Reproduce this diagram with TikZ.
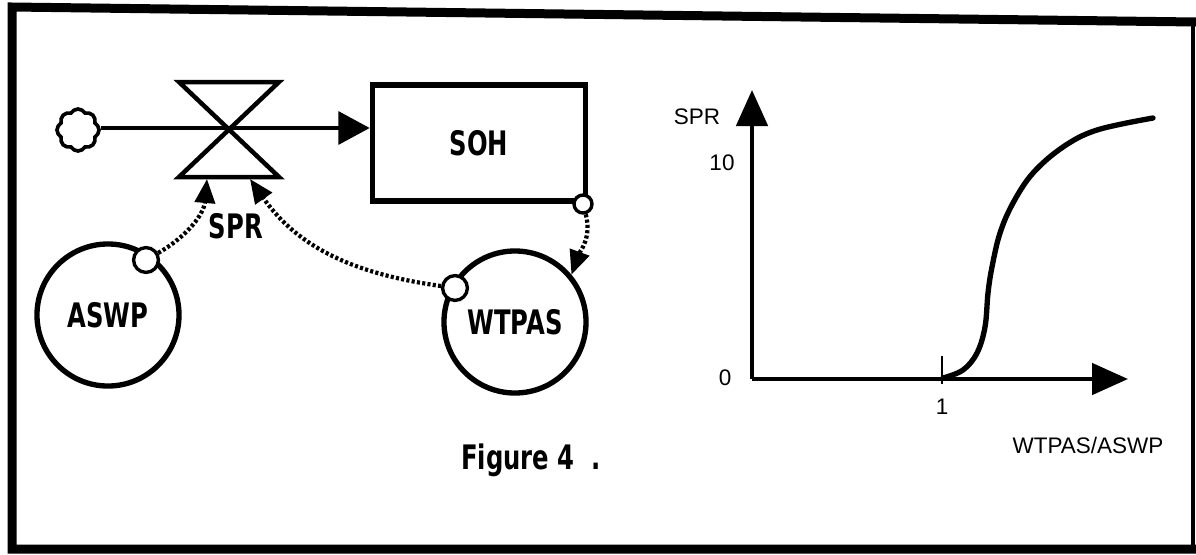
\documentclass[tikz,border=0pt]{standalone}
\usepackage{fontspec}
\setmainfont{Liberation Sans}
\newfontfamily\sdfont[FakeStretch=0.72]{DejaVu Sans}
\usepackage{tikz}
\usetikzlibrary{arrows.meta, shapes.symbols}

\begin{document}
\begin{tikzpicture}[x=0.025cm, y=-0.025cm,
  sdtext/.style={font=\sdfont\bfseries\fontsize{24}{26}\selectfont},
  stock/.style={draw, line width=3.8pt, minimum width=5.33cm, minimum height=2.9cm, sdtext},
  aux/.style={draw, circle, line width=3.8pt, minimum size=3.55cm, inner sep=0pt, sdtext},
  tap/.style={draw, circle, fill=white, line width=2.4pt, minimum size=0.62cm, inner sep=0pt},
  valve/.style={line width=3.2pt, line join=miter},
  flow/.style={line width=2.4pt, -{Triangle[length=0.78cm, width=0.82cm]}},
  info/.style={line width=3pt, dash pattern=on 2.2pt off 1.6pt, -{Triangle[length=0.6cm, width=0.5cm]}},
  axis/.style={line width=3pt, -{Triangle[length=0.9cm, width=0.78cm]}},
  glabel/.style={font=\fontsize{16}{18}\selectfont},
  frame/.style={line width=6.4pt},
]
  \useasboundingbox (0,0) rectangle (1196,554);
  % border of the figure
  \draw[frame] (1196,22) -- (12,7) -- (12,549) -- (1196,549);
  \draw[line width=3.5pt] (1193,22) -- (1193,549);

  % stock and flow diagram
  \node[stock] (soh) at (479,143) {SOH};
  \node[cloud, draw, cloud puffs=8, cloud puff arc=120, aspect=1, minimum width=1.05cm,
    minimum height=1.05cm, inner sep=0pt, line width=2.6pt] (src) at (78,130) {};
  \draw[valve] (179,82) -- (279,82) -- (179,177) -- (279,177) -- cycle;
  \draw[flow] (src.east |- 0,128) -- (soh.west |- 0,128);
  \node[sdtext] (spr) at (236,226) {SPR};
  \coordinate (vin1) at (207,179);
  \coordinate (vin2) at (250,179);

  \node[aux] (aswp) at (108,315) {ASWP};
  \node[aux] (wtpas) at (515,322) {WTPAS};
  \node[tap] (t1) at (146,260) {};
  \node[tap] (t2) at (455,288) {};
  \node[tap, minimum size=0.45cm] (t3) at (583,204) {};

  \draw[info] (t1) to[out=30, in=-95] (vin1);
  \draw[info] (t2) to[out=172, in=-55] (vin2);
  \draw[info] (t3) to[out=-75, in=70] (wtpas.40);

  \node[sdtext] (caption) at (531,460) {Figure 4~~.};

  % table function SPR = f(WTPAS/ASWP)
  \coordinate (o) at (752,379);
  \coordinate (ytip) at (752,90);
  \coordinate (xtip) at (1128,379);
  \draw[axis] (o) -- (ytip);
  \draw[axis] (o) -- (xtip);
  \draw[line width=1.6pt] (942,356) -- (942,384);
  \node[glabel] (ylab) at (697,117) {SPR};
  \node[glabel] (ymax) at (722,163) {10};
  \node[glabel] (yzero) at (725,378) {0};
  \node[glabel] (xone) at (942,407) {1};
  \node[glabel] (xlab) at (1088,445) {WTPAS/ASWP};
  \draw[line width=3.8pt, line cap=round] plot[smooth, tension=0.6] coordinates
    {(943,378) (963,370) (977,353) (985,327) (988,293) (992,267) (1000,233)
     (1013,203) (1033,173) (1063,147) (1097,130) (1153,118)};
\end{tikzpicture}
\end{document}
